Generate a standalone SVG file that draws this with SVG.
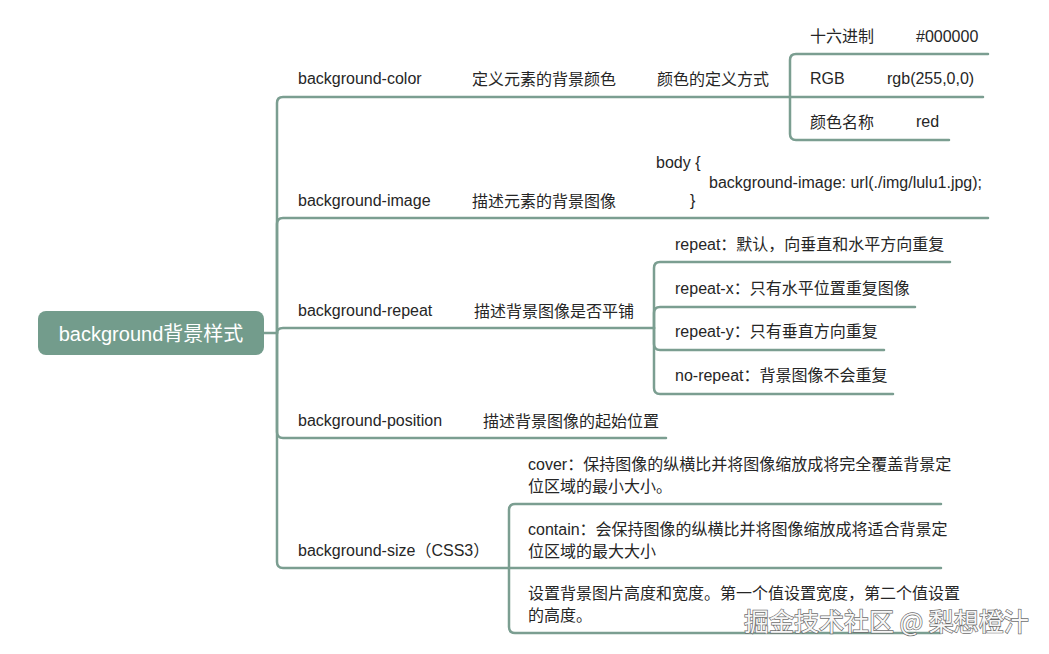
<svg xmlns="http://www.w3.org/2000/svg" width="1049" height="654" viewBox="0 0 1049 654">
<style>
.t{font-family:"Liberation Sans","Noto Sans CJK SC",sans-serif;font-size:16px;fill:#262626}
.ln{fill:none;stroke:#7b9e91;stroke-width:2.5;stroke-linecap:round;stroke-linejoin:round}
.root{fill:#739c8c}
.rt{font-family:"Liberation Sans","Noto Sans CJK SC",sans-serif;font-size:20px;fill:#ffffff}
.wm{font-family:"Noto Sans CJK SC","Liberation Sans",sans-serif;font-size:25px;fill:#f7f7f7;stroke:#6e6e6e;stroke-width:1.4;paint-order:stroke}
</style>
<rect width="1049" height="654" fill="#ffffff"/>
<g id="connectors">
<path class="ln" d="M264,333 H277 V103 Q277,97 283,97 H790"/>
<path class="ln" d="M790,97 V60 Q790,54 796,54 H988"/>
<path class="ln" d="M790,97 H983"/>
<path class="ln" d="M790,97 V134 Q790,140 796,140 H949"/>
<path class="ln" d="M277,333 V224 Q277,218 283,218 H988"/>
<path class="ln" d="M277,333 Q277,328 283,328 H654"/>
<path class="ln" d="M654,328 V268 Q654,262 660,262 H950"/>
<path class="ln" d="M654,328 V313 Q654,307 660,307 H915"/>
<path class="ln" d="M654,328 V344 Q654,350 660,350 H884"/>
<path class="ln" d="M654,328 V388 Q654,394 660,394 H893"/>
<path class="ln" d="M277,333 V432 Q277,438 283,438 H666"/>
<path class="ln" d="M277,333 V562 Q277,568 283,568 H509"/>
<path class="ln" d="M509,568 V510 Q509,504 515,504 H941"/>
<path class="ln" d="M509,568 H941"/>
<path class="ln" d="M509,568 V627 Q509,633 515,633 H941"/>
</g>
<g id="root">
<rect class="root" x="38" y="311" width="226" height="44" rx="8"/>
<text class="rt" x="151" y="341" text-anchor="middle">background背景样式</text>
</g>
<g id="bg-color">
<text class="t" x="298" y="84">background-color</text>
</g>
<g id="bg-color-desc">
<text class="t" x="472" y="85">定义元素的背景颜色</text>
</g>
<g id="color-def">
<text class="t" x="657" y="85">颜色的定义方式</text>
</g>
<g id="hex">
<text class="t" x="810" y="42">十六进制</text>
<text class="t" x="916" y="42">#000000</text>
</g>
<g id="rgb">
<text class="t" x="810" y="84">RGB</text>
<text class="t" x="887" y="84">rgb(255,0,0)</text>
</g>
<g id="name">
<text class="t" x="810" y="128">颜色名称</text>
<text class="t" x="916" y="127">red</text>
</g>
<g id="bg-image">
<text class="t" x="298" y="206">background-image</text>
</g>
<g id="bg-image-desc">
<text class="t" x="472" y="207">描述元素的背景图像</text>
</g>
<g id="code">
<text class="t" x="656" y="168">body {</text>
<text class="t" x="709" y="188">background-image: url(./img/lulu1.jpg);</text>
<text class="t" x="690" y="206">}</text>
</g>
<g id="bg-repeat">
<text class="t" x="298" y="316">background-repeat</text>
</g>
<g id="bg-repeat-desc">
<text class="t" x="474" y="317">描述背景图像是否平铺</text>
</g>
<g id="repeat">
<text class="t" x="675" y="250">repeat：默认，向垂直和水平方向重复</text>
</g>
<g id="repeat-x">
<text class="t" x="675" y="294">repeat-x：只有水平位置重复图像</text>
</g>
<g id="repeat-y">
<text class="t" x="675" y="337">repeat-y：只有垂直方向重复</text>
</g>
<g id="no-repeat">
<text class="t" x="675" y="381">no-repeat：背景图像不会重复</text>
</g>
<g id="bg-position">
<text class="t" x="298" y="426">background-position</text>
</g>
<g id="bg-position-desc">
<text class="t" x="483" y="427">描述背景图像的起始位置</text>
</g>
<g id="bg-size">
<text class="t" x="298" y="556">background-size（CSS3）</text>
</g>
<g id="cover">
<text class="t" x="528" y="470">cover：保持图像的纵横比并将图像缩放成将完全覆盖背景定</text>
<text class="t" x="528" y="492">位区域的最小大小。</text>
</g>
<g id="contain">
<text class="t" x="528" y="535">contain：会保持图像的纵横比并将图像缩放成将适合背景定</text>
<text class="t" x="528" y="557">位区域的最大大小</text>
</g>
<g id="size-set">
<text class="t" x="528" y="599">设置背景图片高度和宽度。第一个值设置宽度，第二个值设置</text>
<text class="t" x="528" y="621">的高度。</text>
</g>
<text class="wm" x="744" y="631">掘金技术社区 @ 梨想橙汁</text>
</svg>
